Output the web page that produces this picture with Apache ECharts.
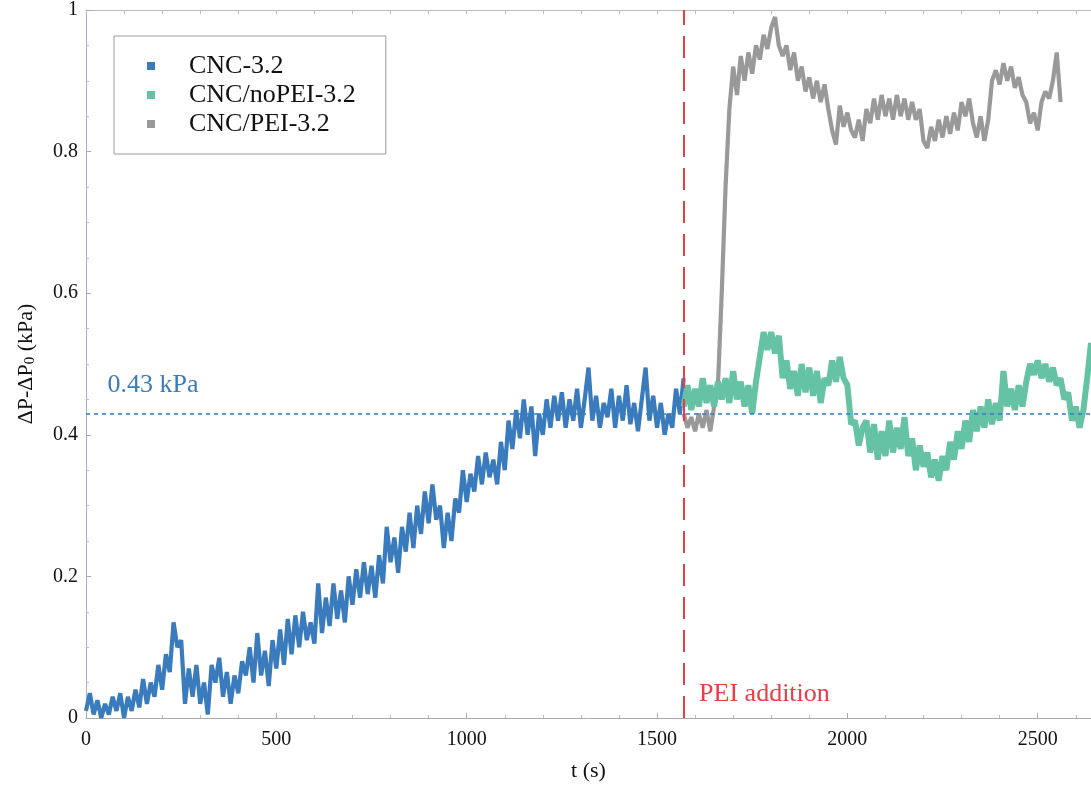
<!DOCTYPE html>
<html>
<head>
<meta charset="utf-8">
<script src="https://cdn.jsdelivr.net/npm/echarts@6/dist/echarts.min.js"></script>
<style>
  html, body { margin: 0; padding: 0; background: #fff; }
  #chart { width: 1091px; height: 791px; }
</style>
</head>
<body>
<div id="chart"></div>
<script>
// sampling step of the read-off traces (s)
const tStep = 10
const cncStart = 0
const afterStart = 1570

// CNC-3.2, t = 0 .. 1570
const cnc = [
  0.01, 0.035, 0.005, 0.025, 0.0, 0.02, 0.005, 0.03, 0.01, 0.035,
  0.0, 0.03, 0.01, 0.04, 0.015, 0.055, 0.02, 0.05, 0.03, 0.075,
  0.04, 0.09, 0.065, 0.135, 0.10, 0.11, 0.02, 0.07, 0.03, 0.075,
  0.02, 0.05, 0.005, 0.075, 0.05, 0.085, 0.03, 0.065, 0.02, 0.06,
  0.035, 0.08, 0.06, 0.10, 0.05, 0.12, 0.06, 0.095, 0.045, 0.11,
  0.07, 0.125, 0.075, 0.14, 0.09, 0.145, 0.10, 0.15, 0.11, 0.135,
  0.105, 0.19, 0.12, 0.17, 0.13, 0.19, 0.14, 0.18, 0.135, 0.2,
  0.16, 0.21, 0.17, 0.22, 0.175, 0.215, 0.17, 0.23, 0.19, 0.27,
  0.22, 0.255, 0.205, 0.27, 0.235, 0.29, 0.24, 0.3, 0.26, 0.32,
  0.275, 0.33, 0.28, 0.3, 0.24, 0.29, 0.25, 0.31, 0.29, 0.35,
  0.305, 0.345, 0.32, 0.37, 0.33, 0.375, 0.34, 0.365, 0.33, 0.39,
  0.35, 0.42, 0.38, 0.435, 0.395, 0.45, 0.4, 0.44, 0.37, 0.43,
  0.40, 0.45, 0.41, 0.455, 0.42, 0.46, 0.41, 0.45, 0.42, 0.465,
  0.41, 0.45, 0.495, 0.42, 0.455, 0.41, 0.445, 0.425, 0.465, 0.41,
  0.455, 0.42, 0.47, 0.415, 0.445, 0.405, 0.45, 0.495, 0.42, 0.455,
  0.41, 0.445, 0.40, 0.43, 0.41, 0.465, 0.43, 0.48
]

// CNC/noPEI-3.2, t = 1570 .. 2640
const noPei = [
  0.44, 0.47, 0.435, 0.465, 0.44, 0.48, 0.445, 0.47, 0.44, 0.475,
  0.45, 0.48, 0.445, 0.49, 0.45, 0.475, 0.44, 0.47, 0.43, 0.475,
  0.51, 0.545, 0.52, 0.545, 0.515, 0.54, 0.48, 0.505, 0.465, 0.49,
  0.455, 0.5, 0.46, 0.495, 0.455, 0.49, 0.445, 0.48, 0.47, 0.505,
  0.475, 0.51, 0.48, 0.47, 0.415, 0.42, 0.385, 0.41, 0.42, 0.375,
  0.415, 0.365, 0.405, 0.37, 0.42, 0.375, 0.41, 0.38, 0.425, 0.37,
  0.395, 0.35, 0.385, 0.355, 0.375, 0.34, 0.365, 0.335, 0.37, 0.35,
  0.39, 0.365, 0.405, 0.38, 0.42, 0.39, 0.435, 0.405, 0.44, 0.41,
  0.45, 0.415, 0.445, 0.42, 0.49, 0.44, 0.465, 0.435, 0.47, 0.44,
  0.475, 0.5, 0.485, 0.505, 0.48, 0.5, 0.475, 0.495, 0.47, 0.48,
  0.45, 0.46, 0.42, 0.44, 0.41, 0.435, 0.48, 0.53
]

// CNC/PEI-3.2, t = 1570 .. 2560
const pei = [
  0.43, 0.41, 0.425, 0.405, 0.43, 0.41, 0.435, 0.405, 0.44, 0.47,
  0.6, 0.75, 0.86, 0.92, 0.88, 0.935, 0.9, 0.94, 0.91, 0.95,
  0.93, 0.965, 0.945, 0.975, 0.99, 0.95, 0.935, 0.95, 0.915, 0.94,
  0.9, 0.92, 0.885, 0.905, 0.875, 0.9, 0.87, 0.895, 0.86, 0.83,
  0.81, 0.865, 0.835, 0.855, 0.83, 0.82, 0.845, 0.815, 0.86, 0.84,
  0.875, 0.845, 0.88, 0.85, 0.875, 0.845, 0.88, 0.85, 0.875, 0.845,
  0.87, 0.845, 0.86, 0.815, 0.805, 0.835, 0.815, 0.845, 0.82, 0.85,
  0.825, 0.855, 0.83, 0.87, 0.85, 0.875, 0.84, 0.82, 0.85, 0.815,
  0.845, 0.9, 0.915, 0.895, 0.925, 0.9, 0.92, 0.89, 0.905, 0.88,
  0.87, 0.84, 0.855, 0.83, 0.87, 0.885, 0.875, 0.9, 0.94, 0.87
]

const xTicks = [0, 500, 1000, 1500, 2000, 2500]
const plateau = 0.435
const peiTime = 1570

const FONT = "'Liberation Serif', 'Times New Roman', serif"
const BLUE = '#3a7bbd'
const GREEN = '#66c2a5'
const GRAY = '#999999'
const RED = '#ee3b45'

const toPairs = (vals, t0) => vals.map((v, i) => [t0 + i * tStep, v])

const chart = echarts.init(document.getElementById('chart'))

const traceSeries = (name, vals, t0, color, width) => ({
  name,
  type: 'line',
  data: toPairs(vals, t0),
  showSymbol: false,
  symbol: 'none',
  itemStyle: { color },
  lineStyle: { color, width, join: 'bevel' },
  animation: false,
})

const option = {
  backgroundColor: '#fff',
  animation: false,
  grid: { left: 86, right: 0, top: 8, bottom: 73 },
  legend: {
    orient: 'vertical',
    left: 114,
    top: 36,
    padding: [17, 30, 17, 33],
    borderColor: '#9a9a9a',
    borderWidth: 1,
    icon: 'rect',
    itemWidth: 8,
    itemHeight: 8,
    itemGap: 3,
    textStyle: { fontFamily: FONT, fontSize: 26, color: '#111', padding: [0, 0, 0, 29] },
    data: ['CNC-3.2', 'CNC/noPEI-3.2', 'CNC/PEI-3.2'],
  },
  xAxis: [
    {
      type: 'value',
      min: 0,
      max: 2640,
      interval: xTicks[1] - xTicks[0],
      name: 't (s)',
      nameLocation: 'middle',
      nameGap: 42,
      nameTextStyle: { fontFamily: FONT, fontSize: 22, color: '#111' },
      axisLine: { lineStyle: { color: '#aaaaaa', width: 1 } },
      axisTick: { inside: true, length: 5, lineStyle: { color: '#aaaaaa' } },
      minorTick: { show: true, splitNumber: 5, length: 3, lineStyle: { color: '#bbbbbb' } },
      axisLabel: {
        fontFamily: FONT, fontSize: 20, color: '#111', margin: 12, showMaxLabel: false,
        formatter: v => String(v),
      },
      splitLine: { show: false },
    },
    {
      type: 'value',
      position: 'top',
      min: 0,
      max: 2640,
      interval: xTicks[1] - xTicks[0],
      axisLine: { lineStyle: { color: '#bbbbbb', width: 1 } },
      axisTick: { inside: true, length: 4, lineStyle: { color: '#bbbbbb' } },
      minorTick: { show: true, splitNumber: 5, length: 4, lineStyle: { color: '#bbbbbb' } },
      axisLabel: { show: false },
      splitLine: { show: false },
    },
  ],
  yAxis: {
    type: 'value',
    min: 0,
    max: 1,
    interval: 0.2,
    name: 'ΔP-ΔP{sub|0} (kPa)',
    nameLocation: 'middle',
    nameGap: 48,
    nameTextStyle: {
      fontFamily: FONT,
      fontSize: 22,
      color: '#111',
      rich: { sub: { fontFamily: FONT, fontSize: 15, color: '#111', verticalAlign: 'bottom', padding: [8, 0, 0, 0] } },
    },
    axisLine: { show: true, lineStyle: { color: '#a8a8dc', width: 1 } },
    axisTick: { inside: true, length: 5, lineStyle: { color: '#aaaaaa' } },
    minorTick: { show: true, splitNumber: 4, length: 3, lineStyle: { color: '#bbbbbb' } },
    axisLabel: { fontFamily: FONT, fontSize: 20, color: '#111', margin: 8 },
    splitLine: { show: false },
  },
  series: [
    traceSeries('CNC-3.2', cnc, cncStart, BLUE, 4.2),
    traceSeries('CNC/PEI-3.2', pei, afterStart, GRAY, 4.2),
    traceSeries('CNC/noPEI-3.2', noPei, afterStart, GREEN, 6),
    {
      name: 'annotations',
      type: 'line',
      data: [],
      z: 5,
      markLine: {
        silent: true,
        symbol: 'none',
        animation: false,
        label: { show: false },
        data: [
          { xAxis: peiTime, lineStyle: { color: RED, width: 2, type: [22, 11] } },
          { yAxis: plateau, lineStyle: { color: BLUE, width: 1.5, type: [4, 4] } },
        ],
      },
      markPoint: {
        symbol: 'circle',
        symbolSize: 0,
        animation: false,
        data: [
          {
            coord: [1600, 0.034],
            label: { show: true, position: 'right', distance: 4, formatter: 'PEI addition', fontFamily: FONT, fontSize: 26, color: RED },
          },
          {
            coord: [46, 0.47],
            label: { show: true, position: 'right', distance: 4, formatter: '0.43 kPa', fontFamily: FONT, fontSize: 26, color: BLUE },
          },
        ],
      },
    },
  ],
}

chart.setOption(option)
</script>
</body>
</html>
